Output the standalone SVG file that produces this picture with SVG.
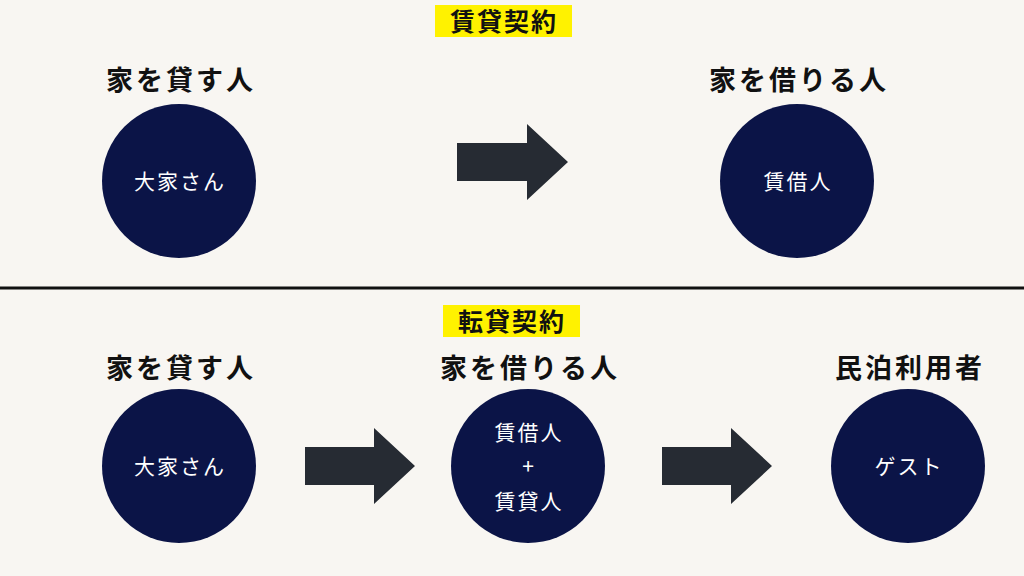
<svg xmlns="http://www.w3.org/2000/svg" width="1024" height="576" viewBox="0 0 1024 576">
<style>
.h{font-family:"Noto Sans CJK JP",sans-serif;font-weight:bold;font-size:27px;fill:#111;text-anchor:middle;letter-spacing:3px}
.t{font-family:"Noto Sans CJK JP",sans-serif;font-weight:bold;font-size:25px;fill:#111;text-anchor:middle;letter-spacing:2px}
.c{fill:#0b1447}
.w{font-family:"Noto Sans CJK JP",sans-serif;font-size:21px;fill:#fff;text-anchor:middle;letter-spacing:2px}
.a{fill:#262b33}
</style>
<rect width="1024" height="576" fill="#f8f6f2"/>
<rect x="435" y="5" width="137" height="32" fill="#fff200"/>
<text class="t" x="504" y="31">賃貸契約</text>
<rect x="443" y="305" width="137" height="32" fill="#fff200"/>
<text class="t" x="512" y="331">転貸契約</text>
<line x1="0" y1="288" x2="1024" y2="288" stroke="#111" stroke-width="3"/>
<text class="h" x="181" y="90">家を貸す人</text>
<text class="h" x="799" y="90">家を借りる人</text>
<text class="h" x="181" y="378">家を貸す人</text>
<text class="h" x="530" y="378">家を借りる人</text>
<text class="h" x="910" y="378">民泊利用者</text>
<g id="n1"><circle class="c" cx="179" cy="181" r="77"/><text class="w" x="180" y="189">大家さん</text></g>
<g id="n2"><circle class="c" cx="797" cy="181" r="77"/><text class="w" x="798" y="189">賃借人</text></g>
<g id="n3"><circle class="c" cx="179" cy="466" r="77"/><text class="w" x="180" y="474">大家さん</text></g>
<g id="n4"><circle class="c" cx="528" cy="466" r="77"/><text class="w" x="529" y="440">賃借人</text><text class="w" x="529" y="474">+</text><text class="w" x="529" y="509">賃貸人</text></g>
<g id="n5"><circle class="c" cx="908" cy="466" r="77"/><text class="w" x="909" y="474">ゲスト</text></g>
<g id="connectors">
<polygon class="a" points="457,143 527,143 527,124 568,162 527,200 527,181 457,181"/>
<polygon class="a" points="305,447 374,447 374,428 415,466 374,504 374,485 305,485"/>
<polygon class="a" points="662,447 731,447 731,428 772,466 731,504 731,485 662,485"/>
</g>
</svg>
